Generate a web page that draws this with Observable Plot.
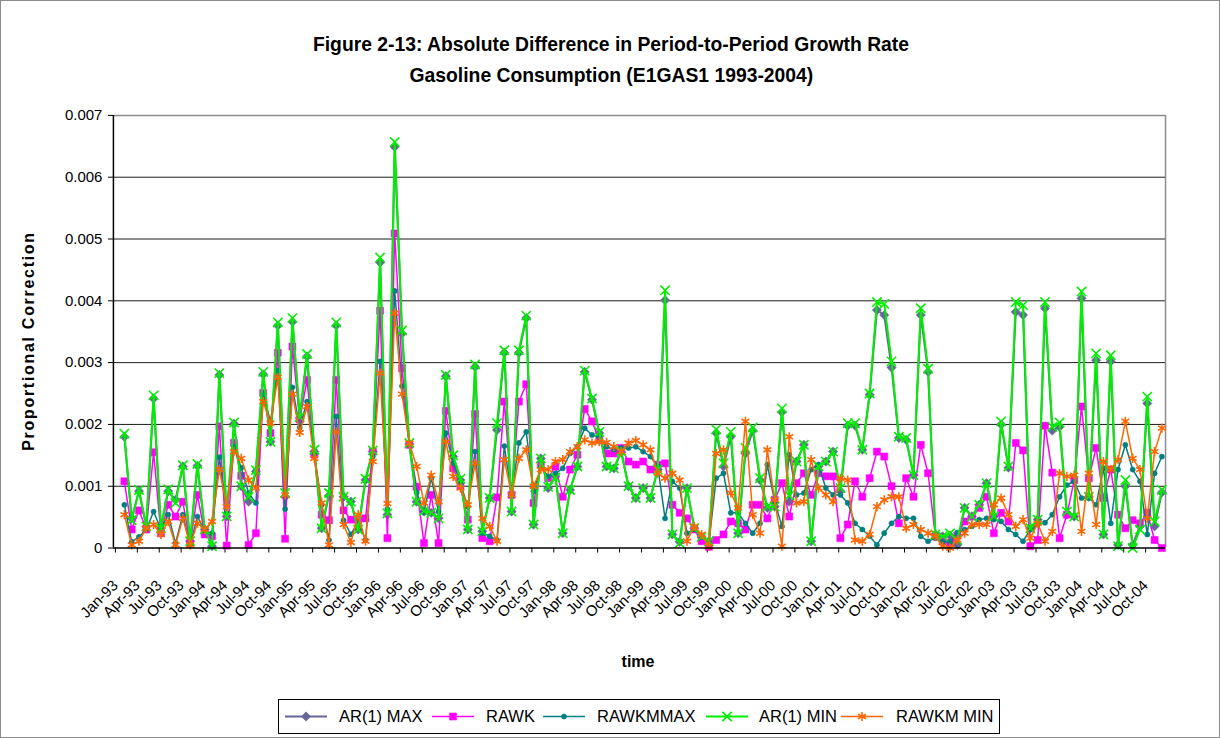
<!DOCTYPE html>
<html>
<head>
<meta charset="utf-8">
<script src="https://cdn.jsdelivr.net/npm/d3@7"></script>
<script src="https://cdn.jsdelivr.net/npm/@observablehq/plot@0.6"></script>
<style>
  body { margin: 0; background: #fff; }
  #wrap { position: relative; width: 1218px; height: 736px; border: 1px solid #8c8c8c; background: #fff; overflow: hidden; font-family: "Liberation Sans", Arial, sans-serif; color: #000; }
  #chart { position: absolute; left: -1px; top: -1px; }
  #title { position: absolute; left: 0; top: 27px; width: 1220px; text-align: center; font-family: "Liberation Sans", Arial, sans-serif; font-weight: bold; font-size: 21px; line-height: 31px; }
  #title span { display: inline-block; transform: scaleX(0.92); transform-origin: center; white-space: nowrap; }
  #ylab { position: absolute; left: -122px; top: 331px; width: 300px; text-align: center; transform: rotate(-90deg); font-weight: bold; font-size: 16px; letter-spacing: 1.7px; }
  #xlab { position: absolute; left: 587px; top: 652px; width: 100px; text-align: center; font-weight: bold; font-size: 16px; }
  #legend { position: absolute; left: 277px; top: 698px; width: 720px; height: 33px; border: 1px solid #000; background: #fff; }
  .li { position: absolute; top: 0; height: 33px; }
  .lt { position: absolute; top: 7px; font-size: 16.5px; white-space: nowrap; }
</style>
</head>
<body>
<div id="wrap">
  <div id="chart"></div>
  <div id="title"><span>Figure 2-13: Absolute Difference in Period-to-Period Growth Rate</span><br><span>Gasoline Consumption (E1GAS1 1993-2004)</span></div>
  <div id="ylab">Proportional Correction</div>
  <div id="xlab">time</div>
  <div id="legend"></div>
</div>
<script>
// ---- Tick labels (every third month, Jan-93 .. Oct-04) ----
const tickLabels = [
  "Jan-93","Apr-93","Jul-93","Oct-93","Jan-94","Apr-94","Jul-94","Oct-94",
  "Jan-95","Apr-95","Jul-95","Oct-95","Jan-96","Apr-96","Jul-96","Oct-96",
  "Jan-97","Apr-97","Jul-97","Oct-97","Jan-98","Apr-98","Jul-98","Oct-98",
  "Jan-99","Apr-99","Jul-99","Oct-99","Jan-00","Apr-00","Jul-00","Oct-00",
  "Jan-01","Apr-01","Jul-01","Oct-01","Jan-02","Apr-02","Jul-02","Oct-02",
  "Jan-03","Apr-03","Jul-03","Oct-03","Jan-04","Apr-04","Jul-04","Oct-04"
];
const yTicks = [0, 0.001, 0.002, 0.003, 0.004, 0.005, 0.006, 0.007];
const yTickLabels = ["0", "0.001", "0.002", "0.003", "0.004", "0.005", "0.006", "0.007"];
const seriesNames = ["AR(1) MAX", "RAWK", "RAWKMMAX", "AR(1) MIN", "RAWKM MIN"];

// ---- Monthly values, Jan-93 (no value) .. Dec-04 ----
const ar1Max = [null,
 0.00180,0.00048,0.00092,0.00035,0.00242,0.00032,0.00092,0.00078,0.00132,0.00011,0.00133,0.00030,
 0.00003,0.00280,0.00051,0.00201,0.00100,0.00075,0.00124,0.00281,0.00172,0.00360,0.00083,0.00366,
 0.00210,0.00310,0.00156,0.00032,0.00085,0.00360,0.00083,0.00075,0.00030,0.00110,0.00156,0.00462,
 0.00054,0.00649,0.00347,0.00168,0.00075,0.00059,0.00057,0.00048,0.00278,0.00148,0.00110,0.00030,
 0.00293,0.00027,0.00081,0.00191,0.00316,0.00059,0.00316,0.00372,0.00038,0.00145,0.00097,0.00116,
 0.00024,0.00094,0.00132,0.00285,0.00240,0.00186,0.00132,0.00129,0.00155,0.00100,0.00081,0.00097,
 0.00081,0.00127,0.00401,0.00022,0.00010,0.00097,0.00032,0.00018,0.00011,0.00186,0.00132,0.00180,
 0.00024,0.00153,0.00190,0.00110,0.00065,0.00067,0.00220,0.00075,0.00140,0.00167,0.00011,0.00132,
 0.00140,0.00156,0.00092,0.00198,0.00198,0.00159,0.00248,0.00385,0.00377,0.00292,0.00178,0.00175,
 0.00118,0.00377,0.00285,0.00022,0.00019,0.00020,0.00005,0.00065,0.00051,0.00070,0.00105,0.00051,
 0.00200,0.00130,0.00382,0.00377,0.00032,0.00046,0.00388,0.00190,0.00196,0.00054,0.00051,0.00404,
 0.00083,0.00304,0.00022,0.00302,0.00005,0.00100,0.00005,0.00035,0.00234,0.00035,0.00090];

const rawk = [null,
 0.00108,0.00030,0.00061,0.00030,0.00155,0.00024,0.00070,0.00051,0.00075,0.00008,0.00086,0.00022,
 0.00019,0.00197,0.00004,0.00170,0.00117,0.00005,0.00024,0.00251,0.00186,0.00316,0.00015,0.00326,
 0.00208,0.00272,0.00151,0.00054,0.00045,0.00272,0.00061,0.00046,0.00045,0.00048,0.00156,0.00384,
 0.00016,0.00509,0.00291,0.00167,0.00099,0.00008,0.00086,0.00008,0.00222,0.00129,0.00100,0.00046,
 0.00217,0.00016,0.00011,0.00082,0.00237,0.00086,0.00237,0.00265,0.00073,0.00135,0.00113,0.00132,
 0.00083,0.00127,0.00151,0.00225,0.00205,0.00175,0.00153,0.00153,0.00162,0.00140,0.00135,0.00140,
 0.00127,0.00135,0.00137,0.00070,0.00057,0.00048,0.00030,0.00011,0.00002,0.00013,0.00022,0.00043,
 0.00040,0.00030,0.00070,0.00070,0.00048,0.00078,0.00105,0.00051,0.00105,0.00121,0.00086,0.00121,
 0.00116,0.00116,0.00016,0.00038,0.00108,0.00083,0.00113,0.00156,0.00148,0.00100,0.00040,0.00113,
 0.00083,0.00167,0.00121,0.00019,0.00011,0.00008,0.00020,0.00043,0.00051,0.00065,0.00083,0.00024,
 0.00057,0.00043,0.00170,0.00158,0.00003,0.00013,0.00198,0.00122,0.00016,0.00054,0.00110,0.00229,
 0.00113,0.00162,0.00081,0.00127,0.00054,0.00032,0.00045,0.00040,0.00057,0.00013,0.00000];

const rawkmMax = [null,
 0.00070,0.00010,0.00018,0.00030,0.00059,0.00030,0.00054,0.00008,0.00054,0.00005,0.00051,0.00028,
 0.00024,0.00147,0.00057,0.00164,0.00130,0.00089,0.00073,0.00249,0.00205,0.00287,0.00063,0.00260,
 0.00195,0.00237,0.00153,0.00070,0.00013,0.00213,0.00045,0.00022,0.00043,0.00013,0.00148,0.00302,
 0.00063,0.00416,0.00262,0.00168,0.00090,0.00058,0.00113,0.00059,0.00186,0.00137,0.00105,0.00067,
 0.00156,0.00024,0.00019,0.00013,0.00165,0.00086,0.00170,0.00188,0.00092,0.00130,0.00116,0.00121,
 0.00129,0.00153,0.00164,0.00194,0.00183,0.00180,0.00164,0.00159,0.00162,0.00162,0.00164,0.00156,
 0.00148,0.00132,0.00048,0.00108,0.00097,0.00024,0.00030,0.00018,0.00008,0.00113,0.00121,0.00057,
 0.00057,0.00040,0.00024,0.00040,0.00135,0.00075,0.00035,0.00151,0.00086,0.00089,0.00127,0.00135,
 0.00097,0.00086,0.00086,0.00073,0.00040,0.00030,0.00019,0.00005,0.00024,0.00040,0.00051,0.00048,
 0.00048,0.00019,0.00011,0.00016,0.00010,0.00010,0.00025,0.00030,0.00035,0.00046,0.00048,0.00046,
 0.00043,0.00030,0.00022,0.00011,0.00030,0.00038,0.00041,0.00054,0.00083,0.00102,0.00108,0.00081,
 0.00081,0.00070,0.00129,0.00040,0.00127,0.00167,0.00127,0.00108,0.00022,0.00121,0.00148];

const ar1Min = [null,
 0.00185,0.00045,0.00094,0.00035,0.00247,0.00032,0.00095,0.00073,0.00134,0.00011,0.00136,0.00030,
 0.00003,0.00283,0.00051,0.00203,0.00100,0.00083,0.00126,0.00285,0.00172,0.00365,0.00089,0.00372,
 0.00212,0.00314,0.00159,0.00032,0.00089,0.00365,0.00083,0.00075,0.00030,0.00112,0.00158,0.00470,
 0.00056,0.00657,0.00352,0.00170,0.00075,0.00060,0.00057,0.00048,0.00280,0.00150,0.00112,0.00030,
 0.00297,0.00027,0.00081,0.00202,0.00320,0.00059,0.00320,0.00376,0.00038,0.00145,0.00099,0.00114,
 0.00024,0.00094,0.00132,0.00287,0.00242,0.00188,0.00132,0.00129,0.00157,0.00100,0.00081,0.00097,
 0.00081,0.00127,0.00417,0.00022,0.00008,0.00097,0.00032,0.00018,0.00011,0.00192,0.00137,0.00188,
 0.00024,0.00162,0.00195,0.00113,0.00067,0.00067,0.00226,0.00085,0.00140,0.00167,0.00011,0.00132,
 0.00140,0.00156,0.00097,0.00202,0.00202,0.00159,0.00250,0.00398,0.00395,0.00302,0.00180,0.00178,
 0.00118,0.00388,0.00290,0.00022,0.00019,0.00024,0.00013,0.00065,0.00051,0.00070,0.00105,0.00051,
 0.00205,0.00132,0.00398,0.00393,0.00032,0.00046,0.00398,0.00196,0.00203,0.00059,0.00051,0.00415,
 0.00083,0.00315,0.00022,0.00312,0.00003,0.00110,0.00000,0.00030,0.00245,0.00043,0.00094];

const rawkmMin = [null,
 0.00054,0.00005,0.00011,0.00032,0.00038,0.00022,0.00043,0.00005,0.00048,0.00005,0.00040,0.00030,
 0.00043,0.00127,0.00067,0.00156,0.00145,0.00110,0.00097,0.00237,0.00202,0.00276,0.00086,0.00249,
 0.00187,0.00229,0.00145,0.00073,0.00005,0.00188,0.00038,0.00009,0.00054,0.00011,0.00140,0.00283,
 0.00072,0.00380,0.00249,0.00170,0.00132,0.00073,0.00118,0.00075,0.00172,0.00116,0.00097,0.00070,
 0.00137,0.00048,0.00035,0.00011,0.00143,0.00086,0.00145,0.00159,0.00100,0.00127,0.00127,0.00140,
 0.00143,0.00156,0.00164,0.00175,0.00170,0.00172,0.00171,0.00164,0.00156,0.00170,0.00174,0.00167,
 0.00159,0.00121,0.00113,0.00121,0.00110,0.00011,0.00035,0.00022,0.00003,0.00153,0.00159,0.00089,
 0.00065,0.00205,0.00054,0.00024,0.00159,0.00078,0.00003,0.00180,0.00073,0.00075,0.00143,0.00097,
 0.00086,0.00075,0.00113,0.00110,0.00013,0.00011,0.00022,0.00067,0.00078,0.00083,0.00083,0.00032,
 0.00038,0.00030,0.00024,0.00019,0.00003,0.00000,0.00013,0.00024,0.00038,0.00038,0.00038,0.00070,
 0.00081,0.00054,0.00035,0.00046,0.00016,0.00040,0.00011,0.00027,0.00121,0.00116,0.00118,0.00027,
 0.00121,0.00038,0.00140,0.00127,0.00143,0.00205,0.00145,0.00127,0.00048,0.00156,0.00194];

// ---- Styling per series ----
const series = [
  {name: seriesNames[0], values: ar1Max,   color: "#666699", width: 2,   symbol: "diamond2", r: 4.2, filled: true},
  {name: seriesNames[1], values: rawk,     color: "#ff00ff", width: 1.5, symbol: "square",   r: 4.0, filled: true},
  {name: seriesNames[2], values: rawkmMax, color: "#008080", width: 1.5, symbol: "circle",   r: 2.6, filled: true},
  {name: seriesNames[3], values: ar1Min,   color: "#00f000", width: 2,   symbol: "times",    r: 4.3, filled: false},
  {name: seriesNames[4], values: rawkmMin, color: "#ff6600", width: 1.5, symbol: "asterisk", r: 4.3, filled: false}
];

const nCats = ar1Max.length; // 144 monthly categories
const marks = [
  Plot.gridY(yTicks.slice(1, -1), {stroke: "#000", strokeOpacity: 0.9, strokeWidth: 1}),
  Plot.ruleY([yTicks[yTicks.length - 1]], {stroke: "#8c8c8c", strokeWidth: 1.5}),
  Plot.ruleX([nCats], {stroke: "#8c8c8c", strokeWidth: 1.5}),
  Plot.axisY(yTicks, {tickSize: 5, tickPadding: 6, fontSize: 15, label: null,
    tickFormat: d => yTickLabels[yTicks.indexOf(d)]}),
  Plot.axisX(d3.range(0, nCats, 3), {
    tickSize: 5, tickRotate: -45, tickPadding: 30, dx: 2, fontSize: 15, label: null,
    tickFormat: d => tickLabels[d / 3]
  })
];
for (const s of series) {
  const idx = d3.range(nCats).filter(i => s.values[i] != null);
  marks.push(Plot.line(idx, {x: i => i + 0.5, y: i => s.values[i], stroke: s.color, strokeWidth: s.width}));
  marks.push(Plot.dot(idx, s.filled
    ? {x: i => i + 0.5, y: i => s.values[i], symbol: s.symbol, r: s.r, fill: s.color, stroke: s.color, strokeWidth: 0.5}
    : {x: i => i + 0.5, y: i => s.values[i], symbol: s.symbol, r: s.r, fill: "none", stroke: s.color, strokeWidth: 1.6}));
}
marks.push(Plot.ruleX([0], {stroke: "#000", strokeWidth: 1.5}));
marks.push(Plot.ruleY([0], {stroke: "#000", strokeWidth: 1.5}));

const chart = Plot.plot({
  width: 1220, height: 690,
  marginLeft: 113, marginRight: 54, marginTop: 115, marginBottom: 142,
  x: {domain: [0, nCats], axis: null},
  y: {domain: [0, yTicks[yTicks.length - 1]], axis: null},
  style: {fontFamily: "'Liberation Sans', Arial, sans-serif", fontSize: "15px", color: "#000", background: "transparent", overflow: "visible"},
  marks
});
document.getElementById("chart").appendChild(chart);

// ---- Legend ----
const legend = document.getElementById("legend");
const itemX = [4, 151, 262, 425, 560];   // sample positions
const textX = [60, 207, 318, 480, 617];
const symMap = {diamond2: d3.symbolDiamond2, square: d3.symbolSquare, circle: d3.symbolCircle, times: d3.symbolTimes, asterisk: d3.symbolAsterisk};
series.forEach((s, k) => {
  const sym = d3.symbol(symMap[s.symbol], Math.PI * s.r * s.r)();
  const it = document.createElement("div");
  it.className = "li";
  it.style.left = itemX[k] + "px";
  it.innerHTML = `<svg width="46" height="33"><line x1="2" x2="44" y1="16.5" y2="16.5" stroke="${s.color}" stroke-width="${s.width}"/>` +
    `<path transform="translate(23,16.5)" d="${sym}" fill="${s.filled ? s.color : 'none'}" stroke="${s.color}" stroke-width="${s.filled ? 0.5 : 1.6}"/></svg>`;
  legend.appendChild(it);
  const t = document.createElement("div");
  t.className = "lt";
  t.style.left = textX[k] + "px";
  t.textContent = s.name;
  legend.appendChild(t);
});
</script>
</body>
</html>
